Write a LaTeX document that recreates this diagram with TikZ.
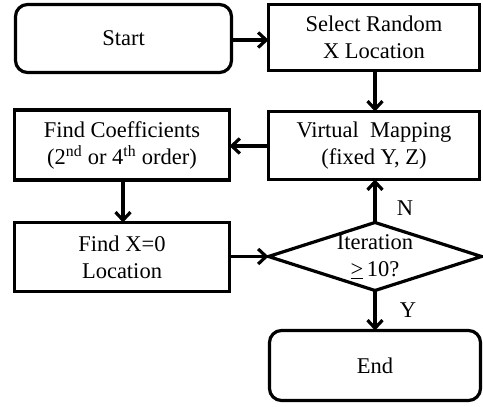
\documentclass[tikz,border=0pt]{standalone}
\usepackage{fontspec}
\setmainfont{Liberation Serif}
\usetikzlibrary{arrows.meta,shapes.geometric}
\begin{document}
\begin{tikzpicture}[x=1pt,y=1pt,
  font=\fontsize{22.5}{27}\selectfont,
  box/.style={draw, line width=3.2pt, inner sep=0pt, outer sep=0pt, align=center},
  rbox/.style={box, rounded corners=12pt},
  arr/.style={line width=3.2pt, -{Straight Barb[length=8pt,width=15pt]}},
  lbl/.style={inner sep=0pt}]
\useasboundingbox (0,0) rectangle (483,407);
\node[rbox, minimum width=216pt, minimum height=68pt] (start) at (123.5,368.5) {Start};
\node[box, minimum width=211pt, minimum height=66pt] (sel) at (374,369.5) {Select Random\\X Location};
\node[box, minimum width=211pt, minimum height=68pt] (vm) at (374,261.5) {Virtual\ \ Mapping\\(fixed Y, Z)};
\node[box, minimum width=215pt, minimum height=70pt] (fc) at (122,262) {Find Coefficients\\(2\textsuperscript{nd} or 4\textsuperscript{th} order)};
\node[box, minimum width=215pt, minimum height=69pt] (fx) at (122,150) {Find X=0\\Location};
\node[diamond, draw, line width=3.2pt, minimum width=213pt, minimum height=68pt, inner sep=0pt, outer sep=0pt] (dia) at (375,150.5) {};
\node[align=center, inner sep=0pt] (diat) at (375,150) {Iteration\\\underline{>}\,10?};
\node[rbox, minimum width=211pt, minimum height=70pt] (end) at (375,41.5) {End};
\node[lbl] (nl) at (405,199) {N};
\node[lbl] (yl) at (408,97) {Y};
\draw[arr] (start.east |- 0,367) -- (sel.west |- 0,367);
\draw[arr] (sel.south -| 375,0) -- (vm.north -| 375,0);
\draw[arr] (vm.west |- 0,261) -- (fc.east |- 0,261);
\draw[arr] (fc.south -| 123,0) -- (fx.north -| 123,0);
\draw[arr] (fx.east |- dia.west) -- (dia.west);
\draw[arr] (dia.north) -- (vm.south -| dia.north);
\draw[arr] (dia.south) -- (end.north -| dia.south);
\end{tikzpicture}
\end{document}
